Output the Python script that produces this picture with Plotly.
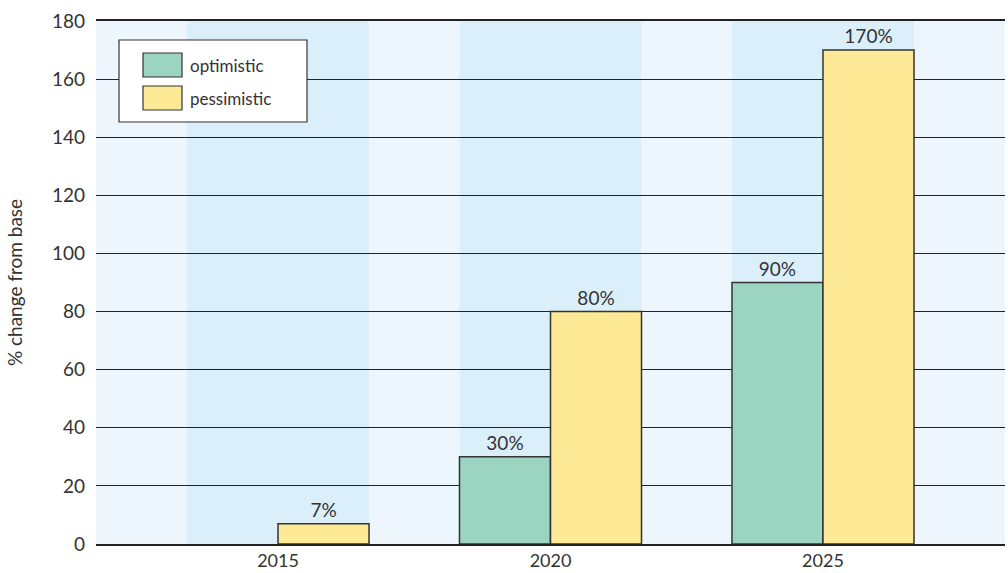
import plotly.graph_objects as go

years = ["2015", "2020", "2025"]
optimistic = [0, 30, 90]
pessimistic = [7, 80, 170]
y_ticks = [0, 20, 40, 60, 80, 100, 120, 140, 160, 180]
series_names = ["optimistic", "pessimistic"]

GREEN = "#9bd4c0"
YELLOW = "#fee996"
EDGE = "#333333"
TEXT = "#333333"
FONT = "Lato"

W, H = 1008, 573
M = dict(l=96, r=3, t=21, b=29)

x_pos = list(range(len(years)))
group_w = 0.668

def outline(vals):
    # no outline for zero-height bars so they vanish into the baseline
    return [0 if v == 0 else 1.5 for v in vals]

fig = go.Figure()
fig.add_trace(go.Bar(
    x=x_pos, y=optimistic, name=series_names[0],
    marker=dict(color=GREEN, line=dict(color=EDGE, width=outline(optimistic))),
    text=[f"{v}%" if v else "" for v in optimistic], textposition="outside",
    textfont=dict(size=19, color=TEXT, family=FONT), cliponaxis=False,
))
fig.add_trace(go.Bar(
    x=x_pos, y=pessimistic, name=series_names[1],
    marker=dict(color=YELLOW, line=dict(color=EDGE, width=outline(pessimistic))),
    text=[f"{v}%" for v in pessimistic], textposition="outside",
    textfont=dict(size=19, color=TEXT, family=FONT), cliponaxis=False,
))

shapes = []
# shaded band behind each year group
for xp in x_pos:
    shapes.append(dict(type="rect", xref="x", yref="paper",
                       x0=xp - group_w / 2, x1=xp + group_w / 2, y0=0, y1=1,
                       fillcolor="#dbeffb", line=dict(width=0), layer="below"))

# legend box drawn in paper coordinates
pw = W - M["l"] - M["r"]
ph = H - M["t"] - M["b"]
def px(x):
    return (x - M["l"]) / pw
def py(y):
    return (H - M["b"] - y) / ph

shapes.append(dict(type="rect", xref="paper", yref="paper",
                   x0=px(119), x1=px(307), y0=py(122), y1=py(40),
                   fillcolor="white", line=dict(color=EDGE, width=1.2), layer="above"))
annotations = []
for i, (name, col) in enumerate(zip(series_names, [GREEN, YELLOW])):
    top = 53 + i * 33
    shapes.append(dict(type="rect", xref="paper", yref="paper",
                       x0=px(143), x1=px(182), y0=py(top + 24), y1=py(top),
                       fillcolor=col, line=dict(color=EDGE, width=1.2), layer="above"))
    annotations.append(dict(xref="paper", yref="paper", x=px(188), y=py(top + 12),
                            text=name, showarrow=False, xanchor="left", yanchor="middle",
                            font=dict(size=17, color=TEXT, family=FONT)))

fig.update_layout(
    width=W, height=H, margin=M,
    paper_bgcolor="white", plot_bgcolor="#eef6fd",
    barmode="group", bargap=1 - group_w, bargroupgap=0,
    showlegend=False,
    font=dict(family=FONT, color=TEXT, size=16),
    shapes=shapes, annotations=annotations,
    xaxis=dict(range=[-0.668, 2.668], tickmode="array", tickvals=x_pos, ticktext=years,
               showgrid=False, zeroline=False, showline=True, mirror=True,
               linecolor="#222222", linewidth=1.5, ticks="", ticklabelstandoff=0,
               automargin=False, tickfont=dict(size=18, color=TEXT)),
    yaxis=dict(range=[0, 180], tickmode="array", tickvals=y_ticks,
               showgrid=True, gridcolor="#222222", gridwidth=1,
               zeroline=False, showline=False, ticks="", ticklabelstandoff=10,
               automargin=False, tickfont=dict(size=19, color=TEXT),
               title=dict(text="% change from base", font=dict(size=19, color=TEXT), standoff=24)),
)

fig.write_html("out.html")
